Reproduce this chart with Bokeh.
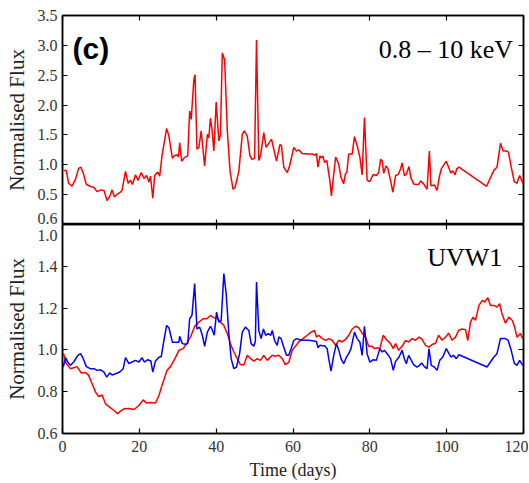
from bokeh.plotting import figure
from bokeh.layouts import column
from bokeh.models import Range1d, LinearAxis, FixedTicker, Label, PrintfTickFormatter
from bokeh.embed import file_html
from bokeh.resources import INLINE

# ---------------- data ----------------
xray_t = [0.3, 1.0, 1.6, 2.5, 3.4, 4.2, 4.8, 5.5, 6.2, 7.2, 8.2, 9.0, 9.9, 10.8, 11.6, 12.3, 12.9, 13.5,
          14.3, 15.0, 15.5, 16.4, 17.1, 17.7, 18.2, 19.0, 19.7, 20.5, 21.2, 21.9, 22.5, 22.9, 23.5, 24.0,
          24.8, 25.3, 25.9, 27.1, 27.7, 28.6, 29.1, 29.8, 30.2, 30.5, 31.0, 31.7, 32.6, 33.1, 33.5, 34.2,
          34.5, 35.0, 35.5, 36.1, 37.0, 37.7, 38.1, 38.5, 38.9, 39.4, 40.0, 40.7, 41.1, 41.6, 42.2, 42.9,
          43.6, 44.4, 44.9, 45.9, 46.8, 47.3, 48.1, 48.8, 49.3, 50.0, 50.5, 51.1, 51.6, 52.4, 53.0, 53.6,
          54.4, 55.0, 55.7, 56.6, 57.0, 57.6, 58.5, 59.1, 60.2, 60.9, 61.5, 62.4, 63.7, 65.0, 65.8, 66.1,
          66.5, 67.0, 67.4, 67.8, 68.2, 68.8, 69.6, 70.0, 70.7, 71.1, 71.9, 72.5, 73.2, 73.6, 74.0, 74.5,
          75.4, 76.0, 76.7, 77.4, 78.0, 78.6, 79.3, 80.0, 80.9, 81.7, 82.3, 82.8, 83.2, 83.6, 84.2, 84.7,
          85.4, 86.0, 86.7, 87.4, 88.0, 88.4, 89.0, 89.5, 90.2, 90.7, 91.4, 92.1, 92.7, 93.2, 94.0, 94.9,
          95.5, 95.9, 96.8, 97.5, 98.1, 98.6, 99.4, 99.9, 100.5, 101.1, 101.6, 102.2, 102.6, 103.2, 110.4,
          112.3, 113.1, 113.6, 114.0, 114.7, 115.7, 116.1, 116.8, 117.6, 118.3, 119.0, 119.6, 120.1]
xray_flux = [0.91, 0.90, 0.69, 0.64, 0.76, 0.94, 0.96, 0.84, 0.67, 0.64, 0.62, 0.55, 0.58, 0.57, 0.40, 0.47,
             0.58, 0.46, 0.51, 0.54, 0.57, 0.89, 0.69, 0.74, 0.67, 0.83, 0.74, 0.87, 0.77, 0.82, 0.71, 0.81,
             0.44, 0.82, 0.88, 0.81, 1.15, 1.61, 1.48, 1.11, 1.15, 1.17, 1.13, 1.37, 1.06, 1.12, 1.15, 1.90,
             1.76, 2.43, 2.51, 1.26, 1.29, 1.57, 0.98, 1.51, 1.45, 1.78, 1.60, 1.23, 2.05, 1.40, 1.50, 2.87,
             2.76, 1.57, 0.90, 0.59, 0.62, 0.89, 1.51, 1.57, 1.48, 1.15, 1.09, 1.11, 3.09, 1.07, 1.17, 1.54,
             1.29, 1.35, 1.43, 1.26, 1.06, 1.34, 1.32, 0.96, 0.87, 0.98, 1.29, 1.23, 1.25, 1.19, 1.18, 1.18,
             1.16, 1.19, 0.96, 1.15, 1.11, 1.15, 1.04, 1.07, 0.73, 0.48, 0.90, 1.13, 1.01, 0.79, 0.68, 0.84,
             0.87, 1.18, 1.18, 1.47, 1.32, 1.13, 0.83, 1.79, 0.74, 0.72, 0.84, 0.82, 0.87, 1.09, 1.07, 0.86,
             0.98, 0.94, 0.73, 0.54, 0.82, 0.84, 0.93, 1.03, 0.82, 0.84, 0.97, 0.78, 0.68, 0.67, 0.67, 0.73,
             0.68, 0.59, 1.23, 0.65, 0.66, 0.57, 0.80, 0.93, 1.01, 1.06, 0.96, 0.86, 0.90, 0.83, 0.93, 0.96,
             0.64, 0.91, 0.96, 1.18, 1.36, 1.23, 1.23, 1.21, 0.96, 0.72, 0.69, 0.82, 0.73, 0.67]

uv_red_t = [0.3, 0.9, 2.1, 2.9, 3.8, 4.9, 6.0, 6.8, 7.7, 8.6, 9.4, 10.3, 11.2, 12.0, 13.4, 14.4, 15.0, 16.0,
            17.3, 18.6, 19.9, 21.0, 21.8, 22.9, 24.2, 25.1, 25.9, 27.2, 28.1, 29.4, 30.3, 31.4, 32.3, 33.3,
            34.4, 35.5, 36.6, 37.6, 38.5, 39.4, 40.3, 41.1, 42.0, 42.9, 43.7, 44.6, 45.5, 46.3, 47.2, 48.1,
            49.0, 49.8, 50.7, 51.5, 52.4, 53.3, 54.6, 55.4, 56.3, 57.2, 58.0, 58.9, 59.8, 60.6, 61.5, 62.6,
            63.7, 64.7, 65.6, 66.1, 66.7, 67.6, 68.5, 69.3, 70.2, 71.1, 71.9, 72.8, 73.7, 74.5, 75.4, 76.3,
            77.1, 78.0, 78.9, 79.7, 80.6, 81.2, 81.9, 82.6, 83.5, 84.3, 85.4, 86.1, 86.7, 87.5, 88.4, 89.3,
            90.1, 91.0, 91.9, 92.8, 93.6, 94.5, 95.4, 96.2, 97.1, 97.9, 98.8, 99.7, 100.5, 101.4, 102.3,
            103.1, 104.0, 104.9, 105.5, 106.2, 106.9, 107.5, 108.4, 109.3, 109.9, 110.7, 111.4, 112.3, 113.1,
            113.8, 114.4, 115.3, 116.2, 117.1, 117.7, 118.3, 119.2, 119.8]
uv_red_flux = [0.982, 0.937, 0.910, 0.915, 0.920, 0.889, 0.892, 0.878, 0.838, 0.798, 0.777, 0.784, 0.742,
               0.730, 0.710, 0.694, 0.706, 0.718, 0.720, 0.715, 0.734, 0.761, 0.746, 0.748, 0.746, 0.782,
               0.830, 0.902, 0.920, 0.963, 0.998, 1.006, 1.030, 1.061, 1.113, 1.133, 1.149, 1.149, 1.165,
               1.154, 1.150, 1.133, 1.117, 1.078, 1.030, 0.990, 0.958, 0.930, 0.928, 0.974, 0.958, 0.946,
               0.958, 0.950, 0.974, 0.950, 0.974, 0.970, 0.974, 0.958, 0.930, 0.940, 0.998, 1.017, 1.038,
               1.054, 1.070, 1.085, 1.093, 1.062, 1.070, 1.054, 1.046, 1.054, 1.046, 1.022, 1.046, 1.038,
               1.050, 1.070, 1.100, 1.113, 1.106, 1.080, 1.060, 1.017, 1.017, 1.006, 1.010, 1.006, 1.070,
               1.050, 1.030, 1.006, 1.030, 0.998, 1.017, 1.045, 1.038, 1.054, 1.046, 1.061, 1.050, 1.022,
               1.013, 1.026, 1.032, 1.070, 1.046, 1.061, 1.080, 1.046, 1.061, 1.093, 1.100, 1.097, 1.045,
               1.133, 1.157, 1.141, 1.213, 1.237, 1.229, 1.250, 1.213, 1.213, 1.205, 1.221, 1.173, 1.128,
               1.157, 1.141, 1.109, 1.061, 1.078, 1.054]

uv_blue_t = [0.2, 0.8, 1.4, 2.1, 2.9, 4.0, 4.7, 5.4, 6.2, 7.2, 8.2, 9.0, 9.9, 10.8, 11.5, 12.3, 12.9, 13.8,
             14.9, 15.8, 16.4, 17.3, 18.1, 19.0, 19.9, 20.7, 21.3, 22.2, 23.0, 23.5, 24.2, 25.1, 25.7, 26.4,
             27.1, 27.7, 28.6, 29.4, 30.3, 30.5, 31.2, 32.0, 32.6, 33.1, 33.7, 34.4, 35.0, 35.7, 36.4, 37.0,
             37.7, 38.5, 38.9, 39.5, 40.1, 40.7, 41.3, 42.0, 42.6, 43.3, 43.9, 44.6, 45.3, 46.1, 46.8, 47.6,
             48.5, 49.1, 49.8, 50.2, 50.5, 51.1, 51.7, 52.3, 52.9, 53.5, 54.2, 54.6, 55.2, 55.9, 56.3, 56.9,
             57.6, 58.3, 58.9, 59.5, 60.2, 60.9, 62.3, 64.1, 65.4, 66.1, 66.5, 67.0, 67.6, 68.2, 68.9, 69.3,
             69.9, 70.6, 71.3, 71.9, 72.5, 73.2, 73.9, 74.5, 75.1, 76.0, 76.7, 77.4, 78.0, 78.6, 79.3, 80.0,
             80.9, 81.7, 82.6, 83.2, 83.8, 84.5, 85.4, 86.1, 86.7, 87.6, 88.4, 89.0, 89.5, 90.1, 90.7, 91.4,
             92.3, 92.9, 93.5, 94.2, 94.9, 95.4, 96.0, 96.8, 97.5, 98.2, 99.0, 99.9, 100.5, 101.1, 101.8,
             102.5, 103.2, 110.5, 112.3, 113.1, 114.0, 115.3, 116.0, 116.8, 117.6, 118.3, 119.0, 119.8]
uv_blue_flux = [0.918, 0.963, 0.940, 0.926, 0.942, 0.974, 0.982, 0.958, 0.920, 0.910, 0.910, 0.902, 0.905,
                0.894, 0.870, 0.890, 0.880, 0.886, 0.894, 0.910, 0.963, 0.934, 0.942, 0.950, 0.942, 0.963,
                0.942, 0.953, 0.947, 0.894, 0.947, 0.965, 0.968, 1.045, 1.117, 1.106, 1.037, 1.037, 1.037,
                1.065, 1.030, 1.027, 1.030, 1.149, 1.165, 1.317, 1.100, 1.109, 1.070, 1.017, 1.085, 1.113,
                1.100, 1.070, 1.181, 1.133, 1.140, 1.365, 1.270, 1.078, 0.958, 0.910, 0.918, 0.982, 1.085,
                1.109, 1.093, 1.030, 1.017, 1.040, 1.325, 1.093, 1.054, 1.100, 1.070, 1.078, 1.070, 1.093,
                1.046, 1.022, 1.062, 1.054, 1.013, 0.974, 0.974, 1.006, 1.045, 1.054, 1.046, 1.046, 1.043,
                1.040, 1.010, 1.022, 1.020, 1.020, 1.006, 0.958, 0.898, 0.974, 1.030, 1.000, 0.958, 0.934,
                0.965, 0.982, 1.006, 1.085, 1.054, 1.038, 0.974, 1.113, 0.982, 0.942, 0.953, 0.950, 1.006,
                0.990, 0.998, 0.982, 0.958, 0.902, 0.945, 0.966, 0.998, 0.958, 0.934, 0.974, 0.953, 0.930,
                0.918, 0.926, 0.937, 0.920, 0.910, 1.006, 0.926, 0.918, 0.902, 0.950, 0.966, 1.006, 0.986,
                0.966, 0.974, 0.958, 0.977, 0.918, 0.966, 0.982, 1.054, 1.054, 1.046, 0.998, 0.937, 0.926,
                0.950, 0.926]

x_ticks = [0, 20, 40, 60, 80, 100, 120]
top_y_ticks = [0.5, 1.0, 1.5, 2.0, 2.5, 3.0, 3.5]
bot_y_ticks = [0.6, 0.8, 1.0, 1.2, 1.4]
# partially shown labels at the shared panel edge, as in the source figure
top_edge_tick, top_edge_label = 0.108, "0.6"
bot_edge_tick, bot_edge_label = 1.549, "1.0"

SERIF = "Liberation Serif"
TICK_COLOR = "#333333"
LABEL_COLOR = "#222222"

x_range = Range1d(0, 120)


def tick_only(ax, ticks):
    ax.ticker = FixedTicker(ticks=ticks)
    ax.major_tick_in = 5
    ax.major_tick_out = 0
    ax.minor_tick_line_color = None
    ax.axis_line_color = "black"
    ax.axis_line_width = 1.5
    ax.major_tick_line_color = "black"
    ax.major_tick_line_width = 1.2
    ax.major_label_text_color = None
    ax.major_label_text_font_size = "1px"
    ax.major_label_standoff = 0


def label_only(ax, ticks, overrides, standoff=5):
    ax.ticker = FixedTicker(ticks=ticks)
    ax.formatter = PrintfTickFormatter(format="%.1f")
    ax.major_label_overrides = overrides
    ax.major_tick_in = 0
    ax.major_tick_out = 0
    ax.minor_tick_line_color = None
    ax.axis_line_color = None
    ax.major_tick_line_color = None
    ax.major_label_text_font = SERIF
    ax.major_label_text_font_size = "16px"
    ax.major_label_text_color = TICK_COLOR
    ax.major_label_standoff = standoff
    ax.axis_label = "Normalised Flux"
    ax.axis_label_text_font = SERIF
    ax.axis_label_text_font_size = "21px"
    ax.axis_label_text_font_style = "normal"
    ax.axis_label_text_color = LABEL_COLOR
    ax.axis_label_standoff = 6


def make_fig(y_range, min_top, min_bottom):
    p = figure(x_range=x_range, y_range=y_range, frame_width=461, frame_height=209,
               min_border_left=62, min_border_right=5, min_border_top=min_top,
               min_border_bottom=min_bottom, toolbar_location=None, output_backend="svg")
    p.grid.visible = False
    p.outline_line_color = "black"
    p.outline_line_width = 1.5
    return p


# ---------------- top panel ----------------
top = make_fig(Range1d(0, 3.5), 15, 0)
top.line(xray_t, xray_flux, line_color="#ff0000", line_width=1.5)
top_below = top.below[0]
top_left = top.left[0]
tick_only(top_below, x_ticks)
tick_only(top_left, top_y_ticks)
top_lab = LinearAxis()
top.add_layout(top_lab, "left")
label_only(top_lab, [top_edge_tick] + top_y_ticks, {top_edge_tick: top_edge_label})
top_right = LinearAxis()
top.add_layout(top_right, "right")
tick_only(top_right, top_y_ticks)
top_above = LinearAxis()
top.add_layout(top_above, "above")
tick_only(top_above, x_ticks)

top.add_layout(Label(x=2.6, y=2.95, text="(c)", text_font="Liberation Sans",
                     text_font_style="bold", text_font_size="30px", text_baseline="middle",
                     text_color="black"))
top.add_layout(Label(x=117.3, y=2.93, text="0.8 – 10 keV", text_font=SERIF,
                     text_font_size="26px", text_align="right", text_baseline="middle",
                     text_color="black"))

# ---------------- bottom panel ----------------
bot = make_fig(Range1d(0.6, 1.6), 0, 50)
bot.line(uv_red_t, uv_red_flux, line_color="#ff0000", line_width=1.5)
bot.line(uv_blue_t, uv_blue_flux, line_color="#0000ff", line_width=1.5)

bot_below = bot.below[0]
bot_below.ticker = FixedTicker(ticks=x_ticks)
bot_below.major_tick_in = 5
bot_below.major_tick_out = 0
bot_below.minor_tick_line_color = None
bot_below.axis_line_color = "black"
bot_below.axis_line_width = 1.5
bot_below.major_tick_line_color = "black"
bot_below.major_tick_line_width = 1.2
bot_below.major_label_text_font = SERIF
bot_below.major_label_text_font_size = "16px"
bot_below.major_label_text_color = TICK_COLOR
bot_below.major_label_standoff = 7
bot_below.axis_label = "Time (days)"
bot_below.axis_label_text_font = SERIF
bot_below.axis_label_text_font_size = "18px"
bot_below.axis_label_text_font_style = "normal"
bot_below.axis_label_text_color = LABEL_COLOR
bot_below.axis_label_standoff = 5

bot_left = bot.left[0]
tick_only(bot_left, bot_y_ticks)
bot_lab = LinearAxis()
bot.add_layout(bot_lab, "left")
label_only(bot_lab, bot_y_ticks + [bot_edge_tick], {bot_edge_tick: bot_edge_label})
bot_right = LinearAxis()
bot.add_layout(bot_right, "right")
tick_only(bot_right, bot_y_ticks)
bot_above = LinearAxis()
bot.add_layout(bot_above, "above")
tick_only(bot_above, x_ticks)

bot.add_layout(Label(x=114.5, y=1.441, text="UVW1", text_font=SERIF,
                     text_font_size="26px", text_align="right", text_baseline="middle",
                     text_color="black"))

layout = column(top, bot, spacing=0)

open("out.html", "w").write(file_html(layout, INLINE))
